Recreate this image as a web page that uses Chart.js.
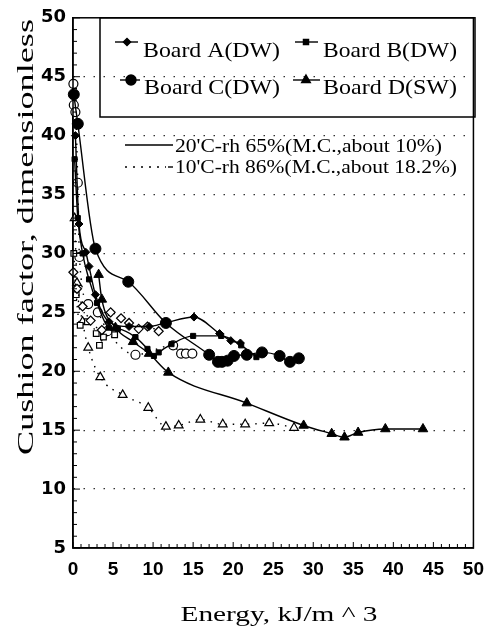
<!DOCTYPE html>
<html>
<head>
<meta charset="utf-8">
<script src="https://cdn.jsdelivr.net/npm/chart.js"></script>
<style>
  html, body { margin: 0; padding: 0; background: #fff; }
  #wrap { width: 494px; height: 634px; }
</style>
</head>
<body>
<div id="wrap"><canvas id="cushion" width="494" height="634"></canvas></div>
<script>
// Cushion factor vs energy, four corrugated boards at two conditions
// values, [energy kJ/m^3, cushion factor]

// 20'C-rh 65% (solid lines, filled markers)
const boardADry = [[0.3,40],[0.75,32.5],[1.6,30.1],[2.0,28.9],[2.8,26.5],[4.5,24.2],[7,23.8],[9.5,23.8],[11.5,24.1],[15.1,24.6],[18.3,23.2],[19.7,22.6],[20.9,22.4]];
const boardBDry = [[0.2,38],[0.6,33],[1.2,30],[2.0,27.8],[3.0,25.8],[4.5,23.7],[5.6,23.6],[7.8,22.9],[9.3,21.9],[10.1,21.3],[10.7,21.6],[12.3,22.3],[15,23],[18.5,23],[21,22.2],[22.9,21.2]];
const boardCDry = [[0.1,43.5],[0.6,41],[2.8,30.4],[6.9,27.6],[11.6,24.1],[17.0,21.4],[18.1,20.8],[18.6,20.8],[19.3,20.9],[20.1,21.3],[21.7,21.4],[23.6,21.6],[25.8,21.3],[27.1,20.8],[28.2,21.1]];
const boardDDry = [[3.2,28.2],[3.6,26.1],[5.3,23.7],[7.5,22.5],[9.5,21.5],[11.9,19.9],[21.7,17.3],[28.8,15.4],[32.3,14.7],[33.9,14.4],[35.6,14.8],[39,15.1],[43.7,15.1]];

// 10'C-rh 86% (dotted lines, open markers)
const boardAWet = [[0.05,28.4],[0.5,27],[1.2,25.5],[2.2,24.3],[3.6,23.5],[4.7,25.0],[6.0,24.5],[7.0,24.1],[8.2,23.6],[9.3,23.8],[10.7,23.4]];
const boardBWet = [[0.1,30],[0.4,26.5],[0.9,23.9],[1.8,24.2],[2.9,23.2],[3.3,22.2],[3.8,22.9],[5.2,23.1]];
const boardCWet = [[0.05,44.4],[0.1,42.6],[0.3,42.0],[0.6,36],[0.8,29.7],[1.9,25.7],[3.1,25.0],[4.3,23.4],[7.8,21.4],[12.5,22.2],[13.5,21.5],[14.1,21.5],[14.9,21.5]];
const boardDWet = [[0.2,33],[0.5,27.5],[1.2,24.2],[1.9,22],[3.4,19.5],[6.2,18.0],[9.4,16.9],[11.6,15.3],[13.2,15.4],[15.9,15.9],[18.7,15.5],[21.5,15.5],[24.5,15.6],[27.6,15.2]];

const boardLabels = ['Board A(DW)', 'Board B(DW)', 'Board C(DW)', 'Board D(SW)'];
const conditionLabels = ["20'C-rh 65%(M.C.,about 10%)", "10'C-rh 86%(M.C.,about 18.2%)"];
const xTitle = 'Energy, kJ/m ^ 3';
const yTitle = 'Cushion factor, dimensionless';

const markers = [
  { style: 'rectRot', r: 4 },
  { style: 'rect', r: 3.6 },
  { style: 'circle', r: 5.5 },
  { style: 'triangle', r: 5.5 }
];

function drySet(label, data, m) {
  return {
    label, data, order: 1,
    borderColor: '#000', borderWidth: 1.4,
    backgroundColor: '#000',
    pointStyle: m.style, pointRadius: m.r, pointBorderWidth: 1,
    pointBackgroundColor: '#000', pointBorderColor: '#000',
    cubicInterpolationMode: 'monotone', clip: false
  };
}
function wetSet(label, data, m) {
  return {
    label, data, order: 2,
    borderColor: '#000', borderWidth: 1.4, borderDash: [1.5, 6],
    pointStyle: m.style, pointRadius: m.r, pointBorderWidth: 1.2,
    pointBackgroundColor: '#fff', pointBorderColor: '#000',
    cubicInterpolationMode: 'monotone', clip: false
  };
}

// draw text squeezed/stretched to a given run length (scan is stretched)
function stretchText(ctx, str, x, y, w, font, align, rot) {
  ctx.save();
  ctx.font = font;
  ctx.fillStyle = '#000';
  ctx.textAlign = align || 'left';
  ctx.textBaseline = 'alphabetic';
  const nat = ctx.measureText(str).width;
  ctx.translate(x, y);
  if (rot) ctx.rotate(rot);
  ctx.scale(w / nat, 1);
  ctx.fillText(str, 0, 0);
  ctx.restore();
}

const framePlugin = {
  id: 'frame',
  afterDraw(chart) {
    const { ctx, chartArea: a, scales } = chart;
    ctx.save();
    ctx.strokeStyle = '#000';
    ctx.lineWidth = 1.5;
    ctx.strokeRect(a.left, a.top, a.right - a.left, a.bottom - a.top);
    // inward ticks, every unit
    ctx.lineWidth = 1;
    for (let v = 5; v <= 50; v++) {
      const py = scales.y.getPixelForValue(v);
      const len = v % 5 === 0 ? 7 : 4;
      ctx.beginPath(); ctx.moveTo(a.left, py); ctx.lineTo(a.left + len, py); ctx.stroke();
    }
    for (let v = 0; v <= 50; v++) {
      const px = scales.x.getPixelForValue(v);
      const len = v % 5 === 0 ? 6 : 4;
      ctx.beginPath(); ctx.moveTo(px, a.bottom); ctx.lineTo(px, a.bottom - len); ctx.stroke();
    }
    ctx.restore();

    // axis titles
    stretchText(ctx, xTitle, 279, 621, 197, '22px "Liberation Serif"', 'center');
    stretchText(ctx, yTitle, 33, 237, 436, '24px "Liberation Serif"', 'center', -Math.PI / 2);
  }
};

const legendPlugin = {
  id: 'boardLegend',
  afterDraw(chart) {
    const ctx = chart.ctx;
    ctx.save();
    ctx.strokeStyle = '#000';
    ctx.lineWidth = 1.5;
    ctx.strokeRect(100, chart.chartArea.top, 375, 117 - chart.chartArea.top);

    const rows = [
      { x0: 115, x1: 138, mx: 127, tx: 143, tw: 137, ly: 42, by: 57 },
      { x0: 295, x1: 318, mx: 306, tx: 323, tw: 134, ly: 42, by: 57 },
      { x0: 120, x1: 140, mx: 131, tx: 144, tw: 136, ly: 80, by: 94 },
      { x0: 293, x1: 320, mx: 306, tx: 323, tw: 134, ly: 80, by: 94 }
    ];
    rows.forEach((r, i) => {
      ctx.lineWidth = 1.4;
      ctx.beginPath(); ctx.moveTo(r.x0, r.ly); ctx.lineTo(r.x1, r.ly); ctx.stroke();
      ctx.fillStyle = '#000';
      Chart.helpers.drawPoint(ctx, {
        pointStyle: markers[i].style, radius: i < 2 ? 3.6 : 5, rotation: 0, borderWidth: 1
      }, r.mx, r.ly);
      ctx.fill();
      stretchText(ctx, boardLabels[i], r.tx, r.by, r.tw, '21px "Liberation Serif"');
    });

    // condition key
    ctx.lineWidth = 1.4;
    ctx.setLineDash([]);
    ctx.beginPath(); ctx.moveTo(125, 145); ctx.lineTo(173, 145); ctx.stroke();
    ctx.setLineDash([2, 6]);
    ctx.beginPath(); ctx.moveTo(125, 167); ctx.lineTo(166, 167); ctx.stroke();
    ctx.setLineDash([]);
    ctx.beginPath(); ctx.moveTo(168, 167); ctx.lineTo(173, 167); ctx.stroke();
    stretchText(ctx, conditionLabels[0], 175, 152, 267, '19px "Liberation Serif"');
    stretchText(ctx, conditionLabels[1], 175, 173, 282, '19px "Liberation Serif"');
    ctx.restore();
  }
};

new Chart(document.getElementById('cushion'), {
  type: 'line',
  data: {
    datasets: [
      drySet(boardLabels[0], boardADry, markers[0]),
      drySet(boardLabels[1], boardBDry, markers[1]),
      drySet(boardLabels[2], boardCDry, markers[2]),
      drySet(boardLabels[3], boardDDry, markers[3]),
      wetSet(boardLabels[0] + ' wet', boardAWet, { style: 'rectRot', r: 4.5 }),
      wetSet(boardLabels[1] + ' wet', boardBWet, { style: 'rect', r: 4 }),
      wetSet(boardLabels[2] + ' wet', boardCWet, { style: 'circle', r: 4.5 }),
      wetSet(boardLabels[3] + ' wet', boardDWet, { style: 'triangle', r: 5 })
    ]
  },
  options: {
    responsive: false,
    animation: false,
    devicePixelRatio: 1,
    layout: { padding: { top: 16, right: 14, left: 0, bottom: 0 } },
    plugins: { legend: { display: false }, tooltip: { enabled: false } },
    scales: {
      x: {
        type: 'linear', min: 0, max: 50,
        afterFit: s => { s.height = 86; },
        ticks: { stepSize: 5, padding: 10, color: '#000', font: { family: 'Liberation Sans', size: 19, weight: 'bold' } },
        grid: { drawOnChartArea: false, drawTicks: false },
        border: { display: true, color: '#000', width: 1.5 }
      },
      y: {
        type: 'linear', min: 5, max: 50,
        afterFit: s => { s.width = 73; },
        ticks: { stepSize: 5, padding: 7, color: '#000', font: { family: 'DejaVu Sans', size: 18, weight: 'bold' } },
        grid: {
          drawTicks: false, lineWidth: 1.2,
          color: c => (c.tick && (c.tick.value === 5 || c.tick.value === 50)) ? 'rgba(0,0,0,0)' : '#333'
        },
        border: { display: true, color: '#000', width: 1.5, dash: [1.5, 8.5] }
      }
    }
  },
  plugins: [framePlugin, legendPlugin]
});
</script>
</body>
</html>
